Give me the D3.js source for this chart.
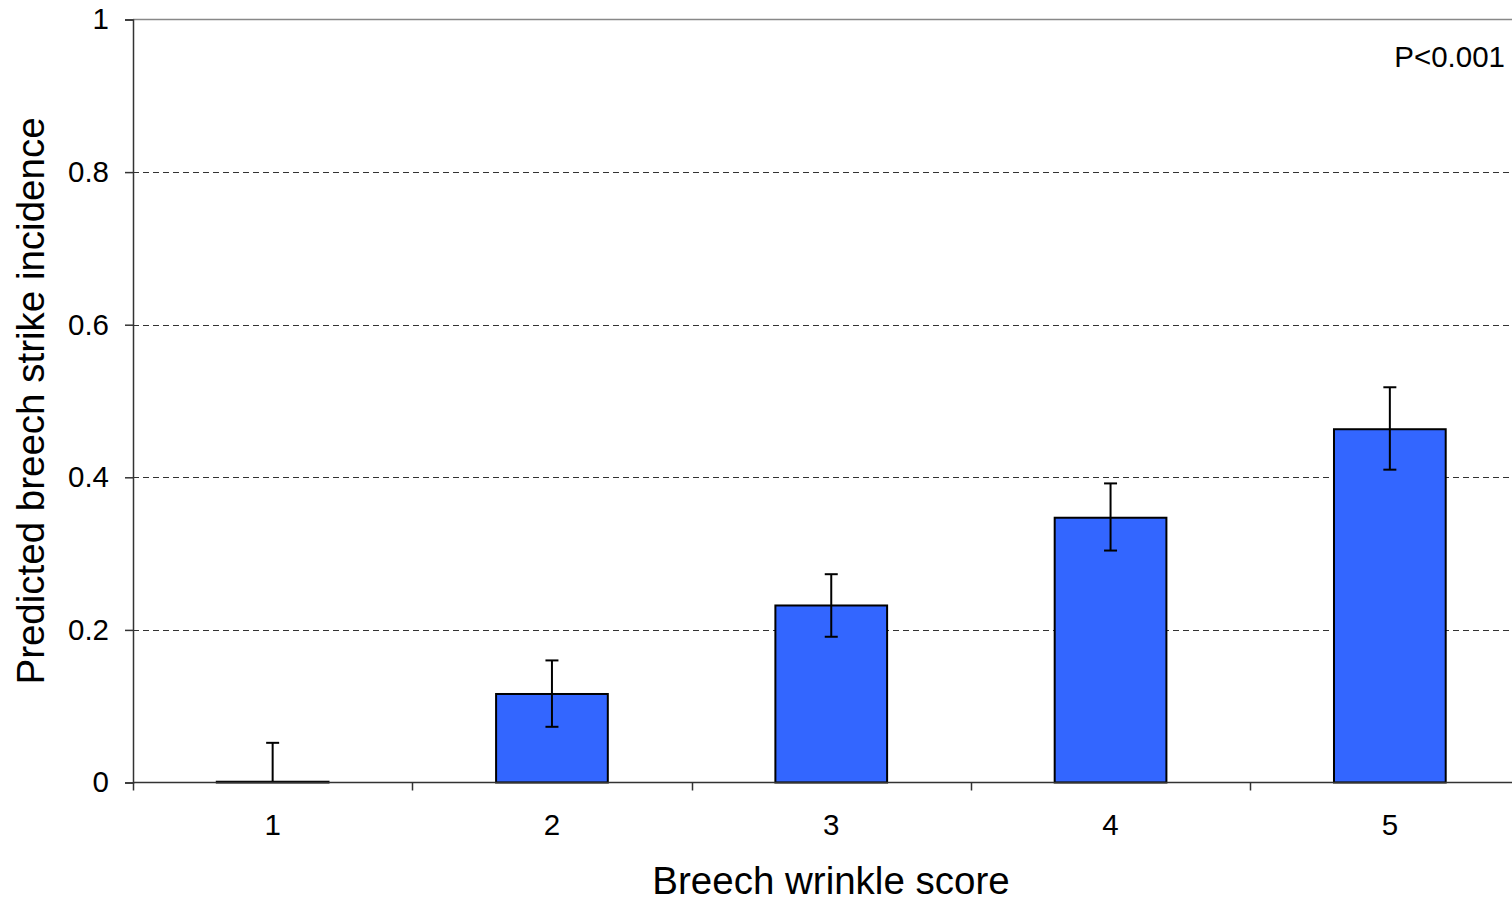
<!DOCTYPE html>
<html>
<head>
<meta charset="utf-8">
<script src="https://cdn.jsdelivr.net/npm/d3@7"></script>
<style>
  html, body { margin: 0; padding: 0; background: #fff; overflow: hidden; }
  text { font-family: "Liberation Sans", Arial, sans-serif; fill: #000; }
</style>
</head>
<body>
<svg id="chart" width="1512" height="901"></svg>
<script>
// Breech wrinkle score categories and predicted strike incidence
const scores = ["1", "2", "3", "4", "5"];
const incidence = [0.001, 0.116, 0.232, 0.347, 0.463];
const errLower = [0.0, 0.073, 0.191, 0.304, 0.410];
const errUpper = [0.052, 0.160, 0.273, 0.392, 0.518];
const yTicks = [0, 0.2, 0.4, 0.6, 0.8, 1];
const yTickLabels = ["0", "0.2", "0.4", "0.6", "0.8", "1"];

const svg = d3.select("#chart");
const plotLeft = 133, plotTop = 19.5, plotBottom = 782.5, step = 279.3;
const plotRight = plotLeft + step * scores.length;
const tickFont = 29.5, titleFont = 38.5;

const x = d3.scaleBand().domain(scores).range([plotLeft, plotRight])
  .paddingInner(0.6).paddingOuter(0.3);
const y = d3.scaleLinear().domain([0, 1]).range([plotBottom, plotTop]);

// dashed horizontal gridlines
svg.append("g").selectAll("line")
  .data(yTicks.filter(v => v > 0 && v < 1))
  .join("line")
  .attr("x1", plotLeft).attr("x2", plotRight)
  .attr("y1", d => Math.round(y(d)) + 0.5).attr("y2", d => Math.round(y(d)) + 0.5)
  .attr("stroke", "#333").attr("stroke-width", 1.2)
  .attr("stroke-dasharray", "6,4");

// plot area top border
svg.append("line")
  .attr("x1", plotLeft).attr("x2", plotRight)
  .attr("y1", y(1)).attr("y2", y(1))
  .attr("stroke", "#888").attr("stroke-width", 1.5);

// bars
svg.append("g").selectAll("rect")
  .data(scores)
  .join("rect")
  .attr("x", d => x(d))
  .attr("width", x.bandwidth())
  .attr("y", (d, i) => y(incidence[i]))
  .attr("height", (d, i) => y(0) - y(incidence[i]))
  .attr("fill", "#3366FF")
  .attr("stroke", "#000").attr("stroke-width", 2);

// error bars
const eb = svg.append("g").attr("stroke", "#000").attr("stroke-width", 2);
scores.forEach((d, i) => {
  const cx = x(d) + x.bandwidth() / 2;
  eb.append("line").attr("x1", cx).attr("x2", cx)
    .attr("y1", y(errLower[i])).attr("y2", y(errUpper[i]));
  eb.append("line").attr("x1", cx - 6.5).attr("x2", cx + 6.5)
    .attr("y1", y(errUpper[i])).attr("y2", y(errUpper[i]));
  if (errLower[i] > 0) {
    eb.append("line").attr("x1", cx - 6.5).attr("x2", cx + 6.5)
      .attr("y1", y(errLower[i])).attr("y2", y(errLower[i]));
  }
});

// y axis
const yAxis = d3.axisLeft(y).tickValues(yTicks)
  .tickFormat((d, i) => yTickLabels[i]).tickSize(8).tickPadding(16);
const gy = svg.append("g").attr("transform", `translate(${plotLeft},0)`).call(yAxis);
gy.select(".domain").attr("stroke", "#333").attr("stroke-width", 1.5);
gy.selectAll(".tick line").attr("stroke", "#333").attr("stroke-width", 1.5);
gy.selectAll(".tick text").attr("font-size", tickFont)
  .attr("font-family", "Liberation Sans, Arial, sans-serif").attr("fill", "#000");

// x axis with ticks at category boundaries
const gx = svg.append("g").attr("transform", `translate(0,${plotBottom})`);
gx.append("line").attr("x1", plotLeft).attr("x2", plotRight)
  .attr("stroke", "#333").attr("stroke-width", 1.5);
const bounds = d3.range(scores.length + 1).map(k => plotLeft + k * step);
gx.selectAll("line.tk").data(bounds).join("line").attr("class", "tk")
  .attr("x1", d => Math.round(d) + 0.5).attr("x2", d => Math.round(d) + 0.5)
  .attr("y1", 0).attr("y2", 8)
  .attr("stroke", "#333").attr("stroke-width", 1.5);
gx.selectAll("text").data(scores).join("text")
  .attr("x", d => x(d) + x.bandwidth() / 2)
  .attr("y", 52.5)
  .attr("text-anchor", "middle")
  .attr("font-size", tickFont)
  .text(d => d);

// axis titles
svg.append("text")
  .attr("x", 831).attr("y", 894)
  .attr("text-anchor", "middle")
  .attr("font-size", titleFont)
  .text("Breech wrinkle score");

svg.append("text")
  .attr("transform", "translate(44,401) rotate(-90)")
  .attr("text-anchor", "middle")
  .attr("font-size", titleFont)
  .text("Predicted breech strike incidence");

// significance annotation
svg.append("text")
  .attr("x", 1505).attr("y", 67)
  .attr("text-anchor", "end")
  .attr("font-size", tickFont)
  .text("P<0.001");
</script>
</body>
</html>
